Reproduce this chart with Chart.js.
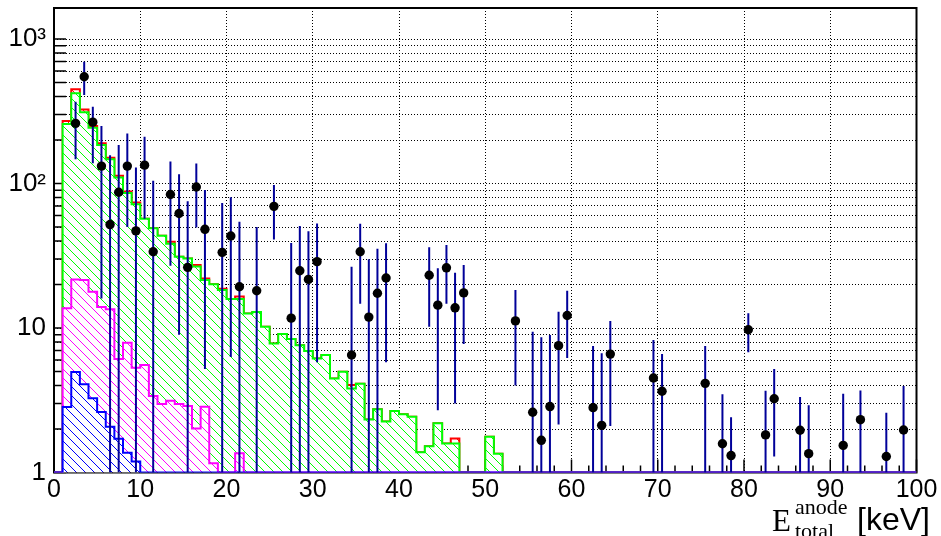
<!DOCTYPE html>
<html>
<head>
<meta charset="utf-8">
<script src="https://cdn.jsdelivr.net/npm/chart.js@4.4.0/dist/chart.umd.min.js"></script>
<style>
  html, body { margin: 0; padding: 0; background: #fff; }
  #wrap { width: 941px; height: 536px; }
</style>
</head>
<body>
<div id="wrap"><canvas id="energyChart" width="941" height="536"></canvas></div>
<script>
// bins are 1 keV wide, 0..100 keV
const binEdges = Array.from({ length: 101 }, (_, i) => i);

// stacked MC contributions (cumulative tops, as drawn by the stack)
const totalCounts = [
  0, 0, 271, 449, 326, 250, 190, 151, 113, 88,
  74, 57, 49, 43.5, 39.6, 31.1, 30.3, 27.3, 22, 20.1,
  18.7, 15.9, 16.5, 12.6, 12.9, 10.2, 7.8, 9.1, 8.4, 7.6,
  6.93, 6.15, 6.5, 4.47, 4.99, 4.03, 4.12, 2.33, 2.74, 2.25,
  2.67, 2.53, 2.43, 1.38, 1.52, 2.19, 1.59, 1.72, 0, 0,
  0, 1.77, 1.35, 0, 0, 0, 0, 0, 0, 0,
  0, 0, 0, 0, 0, 0, 0, 0, 0, 0,
  0, 0, 0, 0, 0, 0, 0, 0, 0, 0,
  0, 0, 0, 0, 0, 0, 0, 0, 0, 0,
  0, 0, 0, 0, 0, 0, 0, 0, 0, 0
];
const greenCounts = [
  0, 0, 258, 421, 311, 243, 185, 147, 110, 86,
  72, 57, 49, 43.5, 38.3, 31.1, 30.3, 26.6, 21.5, 20.1,
  18.3, 15.9, 15.9, 12.6, 12.9, 10.2, 7.8, 9.1, 8.4, 7.6,
  6.93, 6.15, 6.5, 4.47, 4.99, 3.82, 4.12, 2.33, 2.74, 2.25,
  2.67, 2.53, 2.43, 1.38, 1.52, 2.19, 1.59, 1.59, 0, 0,
  0, 1.77, 1.35, 0, 0, 0, 0, 0, 0, 0,
  0, 0, 0, 0, 0, 0, 0, 0, 0, 0,
  0, 0, 0, 0, 0, 0, 0, 0, 0, 0,
  0, 0, 0, 0, 0, 0, 0, 0, 0, 0,
  0, 0, 0, 0, 0, 0, 0, 0, 0, 0
];
const magentaCounts = [
  0, 0, 13.7, 21.7, 21.5, 17.8, 14.0, 13.5, 6.1, 7.9,
  5.3, 5.55, 3.38, 2.98, 3.14, 2.98, 2.88, 2.02, 2.85, 1.16,
  0, 0, 1.36, 0, 0, 0, 0, 0, 0, 0,
  0, 0, 0, 0, 0, 0, 0, 0, 0, 0,
  0, 0, 0, 0, 0, 0, 0, 0, 0, 0,
  0, 0, 0, 0, 0, 0, 0, 0, 0, 0,
  0, 0, 0, 0, 0, 0, 0, 0, 0, 0,
  0, 0, 0, 0, 0, 0, 0, 0, 0, 0,
  0, 0, 0, 0, 0, 0, 0, 0, 0, 0,
  0, 0, 0, 0, 0, 0, 0, 0, 0, 0
];
const blueCounts = [
  0, 0, 2.84, 4.96, 4.08, 3.27, 2.62, 2.07, 1.71, 1.37,
  1.19, 0, 0, 0, 0, 0, 0, 0, 0, 0,
  0, 0, 0, 0, 0, 0, 0, 0, 0, 0,
  0, 0, 0, 0, 0, 0, 0, 0, 0, 0,
  0, 0, 0, 0, 0, 0, 0, 0, 0, 0,
  0, 0, 0, 0, 0, 0, 0, 0, 0, 0,
  0, 0, 0, 0, 0, 0, 0, 0, 0, 0,
  0, 0, 0, 0, 0, 0, 0, 0, 0, 0,
  0, 0, 0, 0, 0, 0, 0, 0, 0, 0,
  0, 0, 0, 0, 0, 0, 0, 0, 0, 0
];

// measured data points (bin centre, value, errors)
const dataX = [
  2.5, 3.5, 4.5, 5.5, 6.5, 7.5, 8.5, 9.5, 10.5, 11.5,
  13.5, 14.5, 15.5, 16.5, 17.5, 19.5, 20.5, 21.5, 23.5, 25.5,
  27.5, 28.5, 29.5, 30.5, 34.5, 35.5, 36.5, 37.5, 38.5, 43.5,
  44.5, 45.5, 46.5, 47.5, 53.5, 55.5, 56.5, 57.5, 58.5, 59.5,
  62.5, 63.5, 64.5, 69.5, 70.5, 75.5, 77.5, 78.5, 80.5, 82.5,
  83.5, 86.5, 87.5, 91.5, 93.5, 96.5, 98.5
];
const dataY = [
  261, 548, 266, 132, 52, 87, 132, 47, 134, 33.7,
  84, 62, 26.3, 94.6, 48.2, 33.4, 43.3, 19.3, 18.1, 69.5,
  11.7, 24.9, 21.7, 28.8, 6.5, 33.7, 11.9, 17.4, 22.2, 23.2,
  14.4, 26.1, 13.8, 17.5, 11.2, 2.61, 1.67, 2.86, 7.55, 12.2,
  2.81, 2.12, 6.6, 4.51, 3.65, 4.14, 1.58, 1.31, 9.73, 1.82,
  3.24, 1.96, 1.35, 1.54, 2.32, 1.29, 1.97
];
const dataErrHigh = [
  107, 149, 74, 118, 105, 98, 90, 82, 77, 71,
  58, 54, 49, 43, 42, 40, 37, 35, 32, 28,
  27, 26, 25, 24, 20, 19, 18, 18, 16.4, 13,
  11.5, 11.4, 10.3, 9.8, 7.1, 6.8, 6.95, 6.1, 5.4, 5.9,
  4.7, 4.56, 4.6, 3.75, 2.96, 3.36, 1.9, 1.1, 2.9, 1.86,
  1.96, 1.37, 1.57, 1.97, 1.38, 1.3, 2.0
];
const dataErrLow = [
  114, 138, 128, 116, 105, 98, 82, 82, 77, 71,
  57, 53, 49, 45, 43, 40, 37, 35, 32, 28.5,
  27, 26, 25, 23, 20, 19, 18, 18, 16.4, 13,
  11.7, 11.4, 10.8, 9.75, 7.2, 6.8, 6.95, 6.1, 5.4, 6.0,
  4.7, 4.56, 4.5, 3.75, 2.96, 3.36, 1.9, 1.1, 2.94, 1.86,
  1.95, 1.37, 1.57, 1.97, 1.38, 1.3, 2.0
];

// axis settings
const xMin = 0, xMax = 100;
const yMin = 1, yMax = 1640;
const yTickValues = [
  1, 2, 3, 4, 5, 6, 7, 8, 9,
  10, 20, 30, 40, 50, 60, 70, 80, 90,
  100, 200, 300, 400, 500, 600, 700, 800, 900, 1000
];
const yTickLabels = { 1: '1', 10: '10', 100: '10\u00B2', 1000: '10\u00B3' };

const canvas = document.getElementById('energyChart');
const ctx = canvas.getContext('2d');

function hatch(color) {
    const s = 9;
    const c = document.createElement('canvas');
    c.width = s;
    c.height = s;
    const g = c.getContext('2d');
    g.fillStyle = '#ffffff';
    g.fillRect(0, 0, s, s);
    g.strokeStyle = color;
    g.lineWidth = 1;
    g.beginPath();
    for (let k = -1; k <= 1; k++) {
        g.moveTo(-1, -1 + k * s);
        g.lineTo(s + 1, s + 1 + k * s);
    }
    g.stroke();
    return ctx.createPattern(c, 'repeat');
}

// histogram as stepped line over bin edges; empty bins sit on the axis floor
function histPoints(counts) {
    const pts = [];
    for (let i = 0; i < counts.length; i++) {
        pts.push({ x: binEdges[i], y: Math.max(counts[i], yMin) });
    }
    pts.push({ x: binEdges[counts.length], y: Math.max(counts[counts.length - 1], yMin) });
    return pts;
}

function histDataset(label, counts, color, order) {
    return {
        type: 'line',
        label: label,
        data: histPoints(counts),
        stepped: 'after',
        borderColor: color,
        borderWidth: 2,
        backgroundColor: hatch(color),
        fill: 'start',
        pointRadius: 0,
        order: order
    };
}

// frame and inside tick marks, ROOT style
const framePlugin = {
    id: 'frame',
    beforeDatasetsDraw(chart) {
        const { ctx, chartArea: a, scales: { x, y } } = chart;
        ctx.save();
        ctx.strokeStyle = '#000';
        ctx.lineWidth = 1.5;
        ctx.beginPath();
        for (let v = xMin; v <= xMax; v += 2) {
            const px = x.getPixelForValue(v);
            const len = v % 10 === 0 ? 13 : 7;
            ctx.moveTo(px, a.bottom);
            ctx.lineTo(px, a.bottom - len);
        }
        yTickValues.forEach(v => {
            const py = y.getPixelForValue(v);
            ctx.moveTo(a.left, py);
            ctx.lineTo(a.left + 12, py);
        });
        ctx.stroke();
        ctx.lineWidth = 2;
        ctx.strokeRect(a.left, a.top, a.right - a.left, a.bottom - a.top);
        ctx.restore();
    }
};

// vertical error bars, drawn just before the data markers
const errorBarPlugin = {
    id: 'errorBars',
    beforeDatasetDraw(chart, args) {
        if (chart.data.datasets[args.index].label !== 'data') return;
        const { ctx, chartArea: a, scales: { x, y } } = chart;
        ctx.save();
        ctx.beginPath();
        ctx.rect(a.left, a.top, a.right - a.left, a.bottom - a.top);
        ctx.clip();
        ctx.strokeStyle = '#000099';
        ctx.lineWidth = 2;
        ctx.beginPath();
        dataX.forEach((xv, i) => {
            const px = x.getPixelForValue(xv);
            const hi = dataY[i] + dataErrHigh[i];
            const lo = dataY[i] - dataErrLow[i];
            const pTop = y.getPixelForValue(hi);
            const pBot = lo > 0 ? y.getPixelForValue(lo) : a.bottom;
            ctx.moveTo(px, pTop);
            ctx.lineTo(px, Math.min(pBot, a.bottom));
        });
        ctx.stroke();
        ctx.restore();
    }
};

// x axis title: E_total^anode [keV]
const axisTitlePlugin = {
    id: 'axisTitle',
    afterDraw(chart) {
        const c = chart.ctx;
        c.save();
        c.fillStyle = '#000';
        c.textBaseline = 'alphabetic';
        c.font = '31px "Liberation Serif"';
        c.fillText('E', 772, 531);
        c.font = '22px "Liberation Serif"';
        c.fillText('anode', 795, 514);
        c.fillText('total', 795, 538);
        c.font = '32px "Liberation Sans"';
        c.fillText('[keV]', 857, 530);
        c.restore();
    }
};

new Chart(ctx, {
    data: {
        datasets: [
            {
                type: 'scatter',
                label: 'data',
                data: dataX.map((xv, i) => ({ x: xv, y: dataY[i] })),
                pointRadius: 4.7,
                pointBackgroundColor: '#000',
                pointBorderWidth: 0,
                showLine: false,
                order: 0
            },
            histDataset('blue', blueCounts, '#0000ff', 1),
            histDataset('magenta', magentaCounts, '#ff00ff', 2),
            histDataset('green', greenCounts, '#00ff00', 3),
            histDataset('red', totalCounts, '#ff0000', 4)
        ]
    },
    options: {
        responsive: false,
        animation: false,
        layout: { padding: { top: 8, right: 24.5, left: 0, bottom: 0 } },
        plugins: {
            legend: { display: false },
            tooltip: { enabled: false }
        },
        scales: {
            x: {
                type: 'linear',
                min: xMin,
                max: xMax,
                afterFit: s => { s.height = 63.5; s.paddingLeft = 0; s.paddingRight = 0; },
                ticks: {
                    stepSize: 10,
                    color: '#000',
                    padding: 3,
                    maxRotation: 0,
                    font: { family: '"Liberation Sans", Arial', size: 25 }
                },
                grid: { color: '#000', lineWidth: 1, drawTicks: false },
                border: { display: false, dash: [1, 2] }
            },
            y: {
                type: 'logarithmic',
                min: yMin,
                max: yMax,
                afterFit: s => { s.width = 54; s.paddingTop = 0; s.paddingBottom = 0; },
                afterBuildTicks: s => { s.ticks = yTickValues.map(v => ({ value: v })); },
                ticks: {
                    autoSkip: false,
                    color: '#000',
                    padding: 8,
                    font: { family: '"Liberation Sans", Arial', size: 26 },
                    callback: v => yTickLabels[v] || ''
                },
                grid: { color: '#000', lineWidth: 1, drawTicks: false },
                border: { display: false, dash: [1, 2] }
            }
        }
    },
    plugins: [framePlugin, errorBarPlugin, axisTitlePlugin]
});
</script>
</body>
</html>
